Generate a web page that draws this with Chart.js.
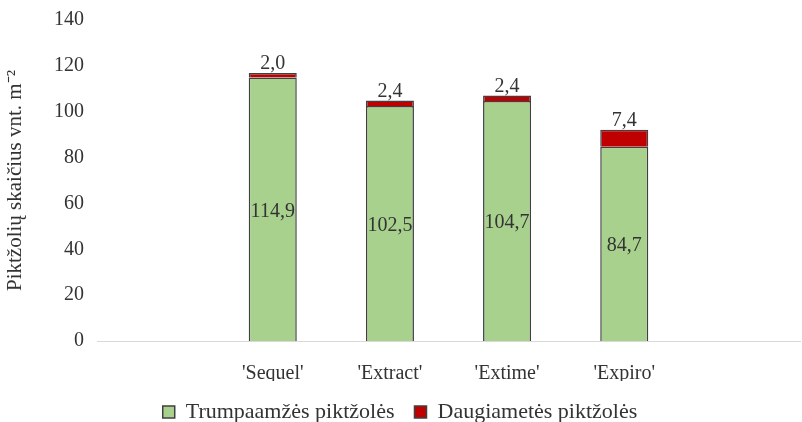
<!DOCTYPE html>
<html>
<head>
<meta charset="utf-8">
<script src="https://cdn.jsdelivr.net/npm/chart.js@4"></script>
<style>
  html, body { margin: 0; padding: 0; background: #fff; }
  #wrap { width: 802px; height: 422px; }
</style>
</head>
<body>
<div id="wrap"><canvas id="chart"></canvas></div>
<script>
// duomenys
const categories = ['', "'Sequel'", "'Extract'", "'Extime'", "'Expiro'", ''];
const trumpaamzes = [null, 114.9, 102.5, 104.7, 84.7, null];
const daugiametes = [null, 2.0, 2.4, 2.4, 7.4, null];
const yTicks = [0, 20, 40, 60, 80, 100, 120, 140];

const fmt = v => v.toFixed(1).replace('.', ',');
const FONT = 'Liberation Serif, Times New Roman, serif';
const TXT = '#333333';

// reikšmių užrašai ant stulpelių
const labelPlugin = {
  id: 'barLabels',
  afterDatasetsDraw(chart) {
    const ctx = chart.ctx;
    ctx.save();
    ctx.font = '20px ' + FONT;
    ctx.fillStyle = TXT;
    ctx.textAlign = 'center';
    const m0 = chart.getDatasetMeta(0);
    const m1 = chart.getDatasetMeta(1);
    m0.data.forEach((bar, i) => {
      if (trumpaamzes[i] == null) return;
      ctx.textBaseline = 'middle';
      ctx.fillText(fmt(trumpaamzes[i]), bar.x, (bar.y + bar.base) / 2 + 2);
      const top = m1.data[i];
      ctx.textBaseline = 'bottom';
      ctx.fillText(fmt(daugiametes[i]), top.x, top.y + 1);
    });
    ctx.restore();
  }
};

new Chart(document.getElementById('chart'), {
  type: 'bar',
  data: {
    labels: categories,
    datasets: [{
      label: 'Trumpaamžės piktžolės',
      data: trumpaamzes,
      backgroundColor: '#a9d18e',
      borderColor: '#404040',
      borderWidth: 1.5,
      categoryPercentage: 1,
      barPercentage: 0.41
    }, {
      label: 'Daugiametės piktžolės',
      data: daugiametes,
      backgroundColor: '#c00000',
      borderColor: '#404040',
      borderWidth: 1.5,
      categoryPercentage: 1,
      barPercentage: 0.41
    }]
  },
  options: {
    responsive: true,
    maintainAspectRatio: false,
    animation: false,
    layout: { padding: { top: 20, right: 2, left: 0, bottom: 0 } },
    plugins: {
      legend: {
        position: 'bottom',
        maxHeight: 41,
        labels: {
          font: { family: FONT, size: 22 },
          color: TXT,
          boxWidth: 12,
          boxHeight: 12,
          padding: 20
        }
      },
      tooltip: { enabled: false }
    },
    scales: {
      x: {
        stacked: true,
        grid: { display: false },
        border: { display: true, color: '#d9d9d9' },
        ticks: { font: { family: FONT, size: 20 }, color: TXT, padding: 13, autoSkip: false, maxRotation: 0 },
        afterFit: s => { s.height = 40; }
      },
      y: {
        stacked: true,
        min: 0,
        max: 140,
        grid: { display: false },
        border: { display: false },
        afterBuildTicks: s => { s.ticks = yTicks.map(v => ({ value: v })); },
        ticks: { font: { family: FONT, size: 20 }, color: TXT, padding: 5 },
        title: {
          display: true,
          text: 'Piktžolių skaičius vnt. m⁻²',
          font: { family: FONT, size: 21 },
          color: TXT,
          padding: { top: 3, bottom: 0 }
        },
        afterFit: s => { s.width = 97; }
      }
    }
  },
  plugins: [labelPlugin]
});
</script>
</body>
</html>
